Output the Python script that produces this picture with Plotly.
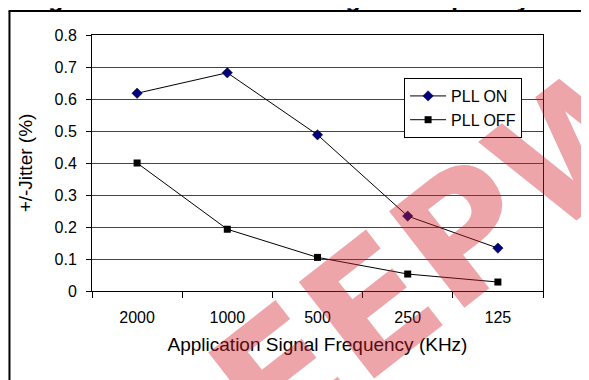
import plotly.graph_objects as go

# data
freq = ['2000', '1000', '500', '250', '125']
pll_on = [0.618, 0.682, 0.488, 0.234, 0.134]
pll_off = [0.40, 0.193, 0.105, 0.053, 0.028]

fig = go.Figure()
fig.add_trace(go.Scatter(x=freq, y=pll_on, name='PLL ON', mode='lines+markers',
                         legendgroup='on',
                         line=dict(color='black', width=1),
                         marker=dict(symbol='diamond', size=8, color='#000080',
                                     line=dict(color='black', width=0.5))))
fig.add_trace(go.Scatter(x=freq, y=pll_off, name='PLL OFF', mode='lines+markers',
                         legendgroup='off',
                         line=dict(color='black', width=1),
                         marker=dict(symbol='square', size=7, color='black')))

fnt = dict(family='Liberation Sans, Arial, sans-serif', size=16, color='black')

fig.update_layout(
    width=589, height=380,
    margin=dict(l=84, r=54, t=27, b=97, autoexpand=False),
    paper_bgcolor='white', plot_bgcolor='white',
    font=fnt,
    showlegend=True,
    legend=dict(x=0.692, y=0.832, xanchor='left', yanchor='top',
                bordercolor='black', borderwidth=1, bgcolor='white',
                font=dict(size=16), tracegroupgap=0, itemwidth=36),
    xaxis=dict(type='category', range=[-0.5, 4.5], showline=True, linecolor='black',
               linewidth=1, mirror=True, ticks='outside', tickson='boundaries',
               ticklen=6, tickcolor='black', showgrid=False, automargin=False,
               ticklabelstandoff=12,
               title=dict(text='Application Signal Frequency (KHz)', standoff=12)),
    yaxis=dict(range=[0, 0.8], dtick=0.1, showline=True, linecolor='black',
               linewidth=1, mirror=True, ticks='outside', ticklen=5,
               tickcolor='black', gridcolor='#444444', gridwidth=1,
               zeroline=False, tickformat='.1~f', automargin=False,
               ticklabelstandoff=6,
               title=dict(text='+/-Jitter (%)', standoff=16)),
)

# outer frame (left and top edges)
fig.add_shape(type='line', xref='paper', yref='paper', x0=-0.183, x1=-0.183,
              y0=1.094, y1=-0.4, line=dict(color='black', width=2))
fig.add_shape(type='line', xref='paper', yref='paper', x0=-0.185, x1=1.2,
              y0=1.094, y1=1.094, line=dict(color='black', width=2))

# cropped figure caption (only the lower edge shows in the reference)
fig.add_annotation(text='<b>Figure 9. Clock Jitter vs. Signal Frequency</b>', xref='paper',
                   yref='paper', x=-0.15, y=1.082, xanchor='left', yanchor='bottom',
                   showarrow=False, font=dict(size=25, color='black'))

# watermark
fig.add_annotation(text='<b>EEPW</b>', xref='paper', yref='paper',
                   x=0.79, y=0.17, xanchor='center', yanchor='middle',
                   showarrow=False, textangle=-38,
                   font=dict(family='DejaVu Sans', size=168,
                             color='rgba(210,30,40,0.4)'))

fig.write_html('out.html')
